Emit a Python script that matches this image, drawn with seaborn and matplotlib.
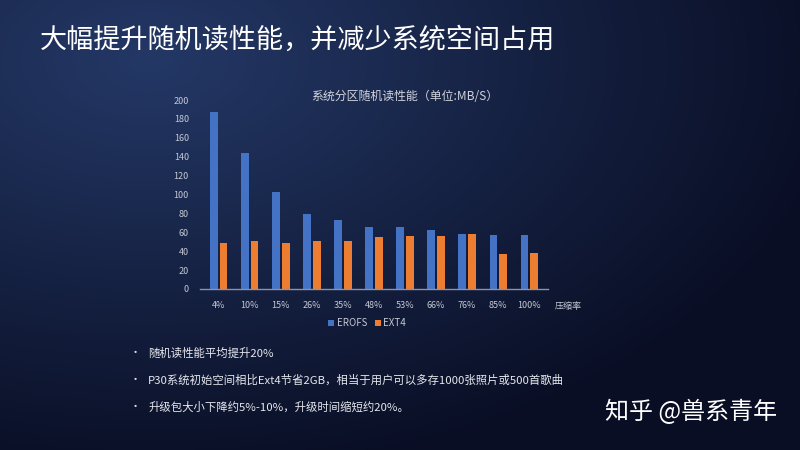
import numpy as np
import pandas as pd
import matplotlib
matplotlib.use('Agg')
import matplotlib.pyplot as plt
import seaborn as sns

# data
rates = ['4%', '10%', '15%', '26%', '35%', '48%', '53%', '66%', '76%', '85%', '100%']
erofs = [187, 144, 103, 79, 73, 66, 66, 62, 58, 57, 57]
ext4 = [49, 51, 49, 51, 51, 55, 56, 56, 58, 37, 38]
series = ['EROFS', 'EXT4']
bullets = ['随机读性能平均提升20%',
           'P30系统初始空间相比Ext4节省2GB，相当于用户可以多存1000张照片或500首歌曲',
           '升级包大小下降约5%-10%，升级时间缩短约20%。']

df = pd.DataFrame({
    '压缩率': rates * 2,
    'value': erofs + ext4,
    'fs': [series[0]] * len(rates) + [series[1]] * len(rates),
})

sns.set_theme(style='white')
plt.rcParams['font.family'] = ['Noto Sans CJK SC', 'DejaVu Sans']

fig = plt.figure(figsize=(8, 4.5), dpi=100)

# dark blue slide background with a lighter glow at top left
bg = fig.add_axes([0, 0, 1, 1])
h, w = 450, 800
yy, xx = np.mgrid[0:h, 0:w]
d = np.sqrt(((xx - 150) / 700) ** 2 + ((yy - 60) / 420) ** 2)
t = np.clip(d, 0, 1)[..., None]
c1 = np.array([36, 56, 102]) / 255
c2 = np.array([9, 14, 36]) / 255
img = c1 * (1 - t) + c2 * t
bg.imshow(img, aspect='auto', extent=[0, 1, 0, 1])
bg.set_axis_off()

ax = fig.add_axes([200 / 800, 1 - 289 / 450, 348 / 800, 189 / 450])
ax.set_facecolor('none')
sns.barplot(data=df, x='压缩率', y='value', hue='fs', ax=ax,
            palette=['#4472c4', '#ed7d31'], width=0.62, gap=0.18,
            saturation=1, linewidth=0, edgecolor='none', legend=True)

tick_col = '#c4c8d4'
ax.set_ylim(0, 200)
ax.set_yticks(range(0, 201, 20))
ax.tick_params(axis='both', colors=tick_col, labelsize=6.5, length=0, pad=8)
ax.tick_params(axis='x', pad=9)
for s in ['top', 'right', 'left']:
    ax.spines[s].set_visible(False)
ax.spines['bottom'].set_color('#8a93ad')
ax.spines['bottom'].set_linewidth(1)
ax.set_xlabel('')
ax.set_ylabel('')
ax.grid(False)
ax.set_xlim(-0.6, len(rates) - 0.4)

ax.text(1.02, -0.09, '压缩率', transform=ax.transAxes, color=tick_col,
        fontsize=6.5, ha='left', va='center')

leg = ax.legend(loc='center', bbox_to_anchor=(0.48, -0.18), ncol=2, frameon=False,
                fontsize=7, handlelength=0.6, handleheight=0.6, handletextpad=0.3,
                columnspacing=0.8)
for txt in leg.get_texts():
    txt.set_color(tick_col)

fig.text(405 / 800, 1 - 96 / 450, '系统分区随机读性能（单位:MB/S）', color='#d0d3dc',
         fontsize=8.6, ha='center', va='center')

fig.text(40 / 800, 1 - 40 / 450, '大幅提升随机读性能，并减少系统空间占用', color='white',
         fontsize=19.5, ha='left', va='center')

for i, b in enumerate(bullets):
    yb = 1 - (353 + i * 27) / 450
    fig.text(130 / 800, yb, '•', color='#e0e2ea', fontsize=8, ha='left', va='center')
    fig.text(148 / 800, yb, b, color='#e6e8ee', fontsize=8.2, ha='left', va='center')

fig.text(605 / 800, 1 - 412 / 450, '知乎 @兽系青年', color='white',
         fontsize=17.3, ha='left', va='center')

fig.savefig('out.png', dpi=100)
